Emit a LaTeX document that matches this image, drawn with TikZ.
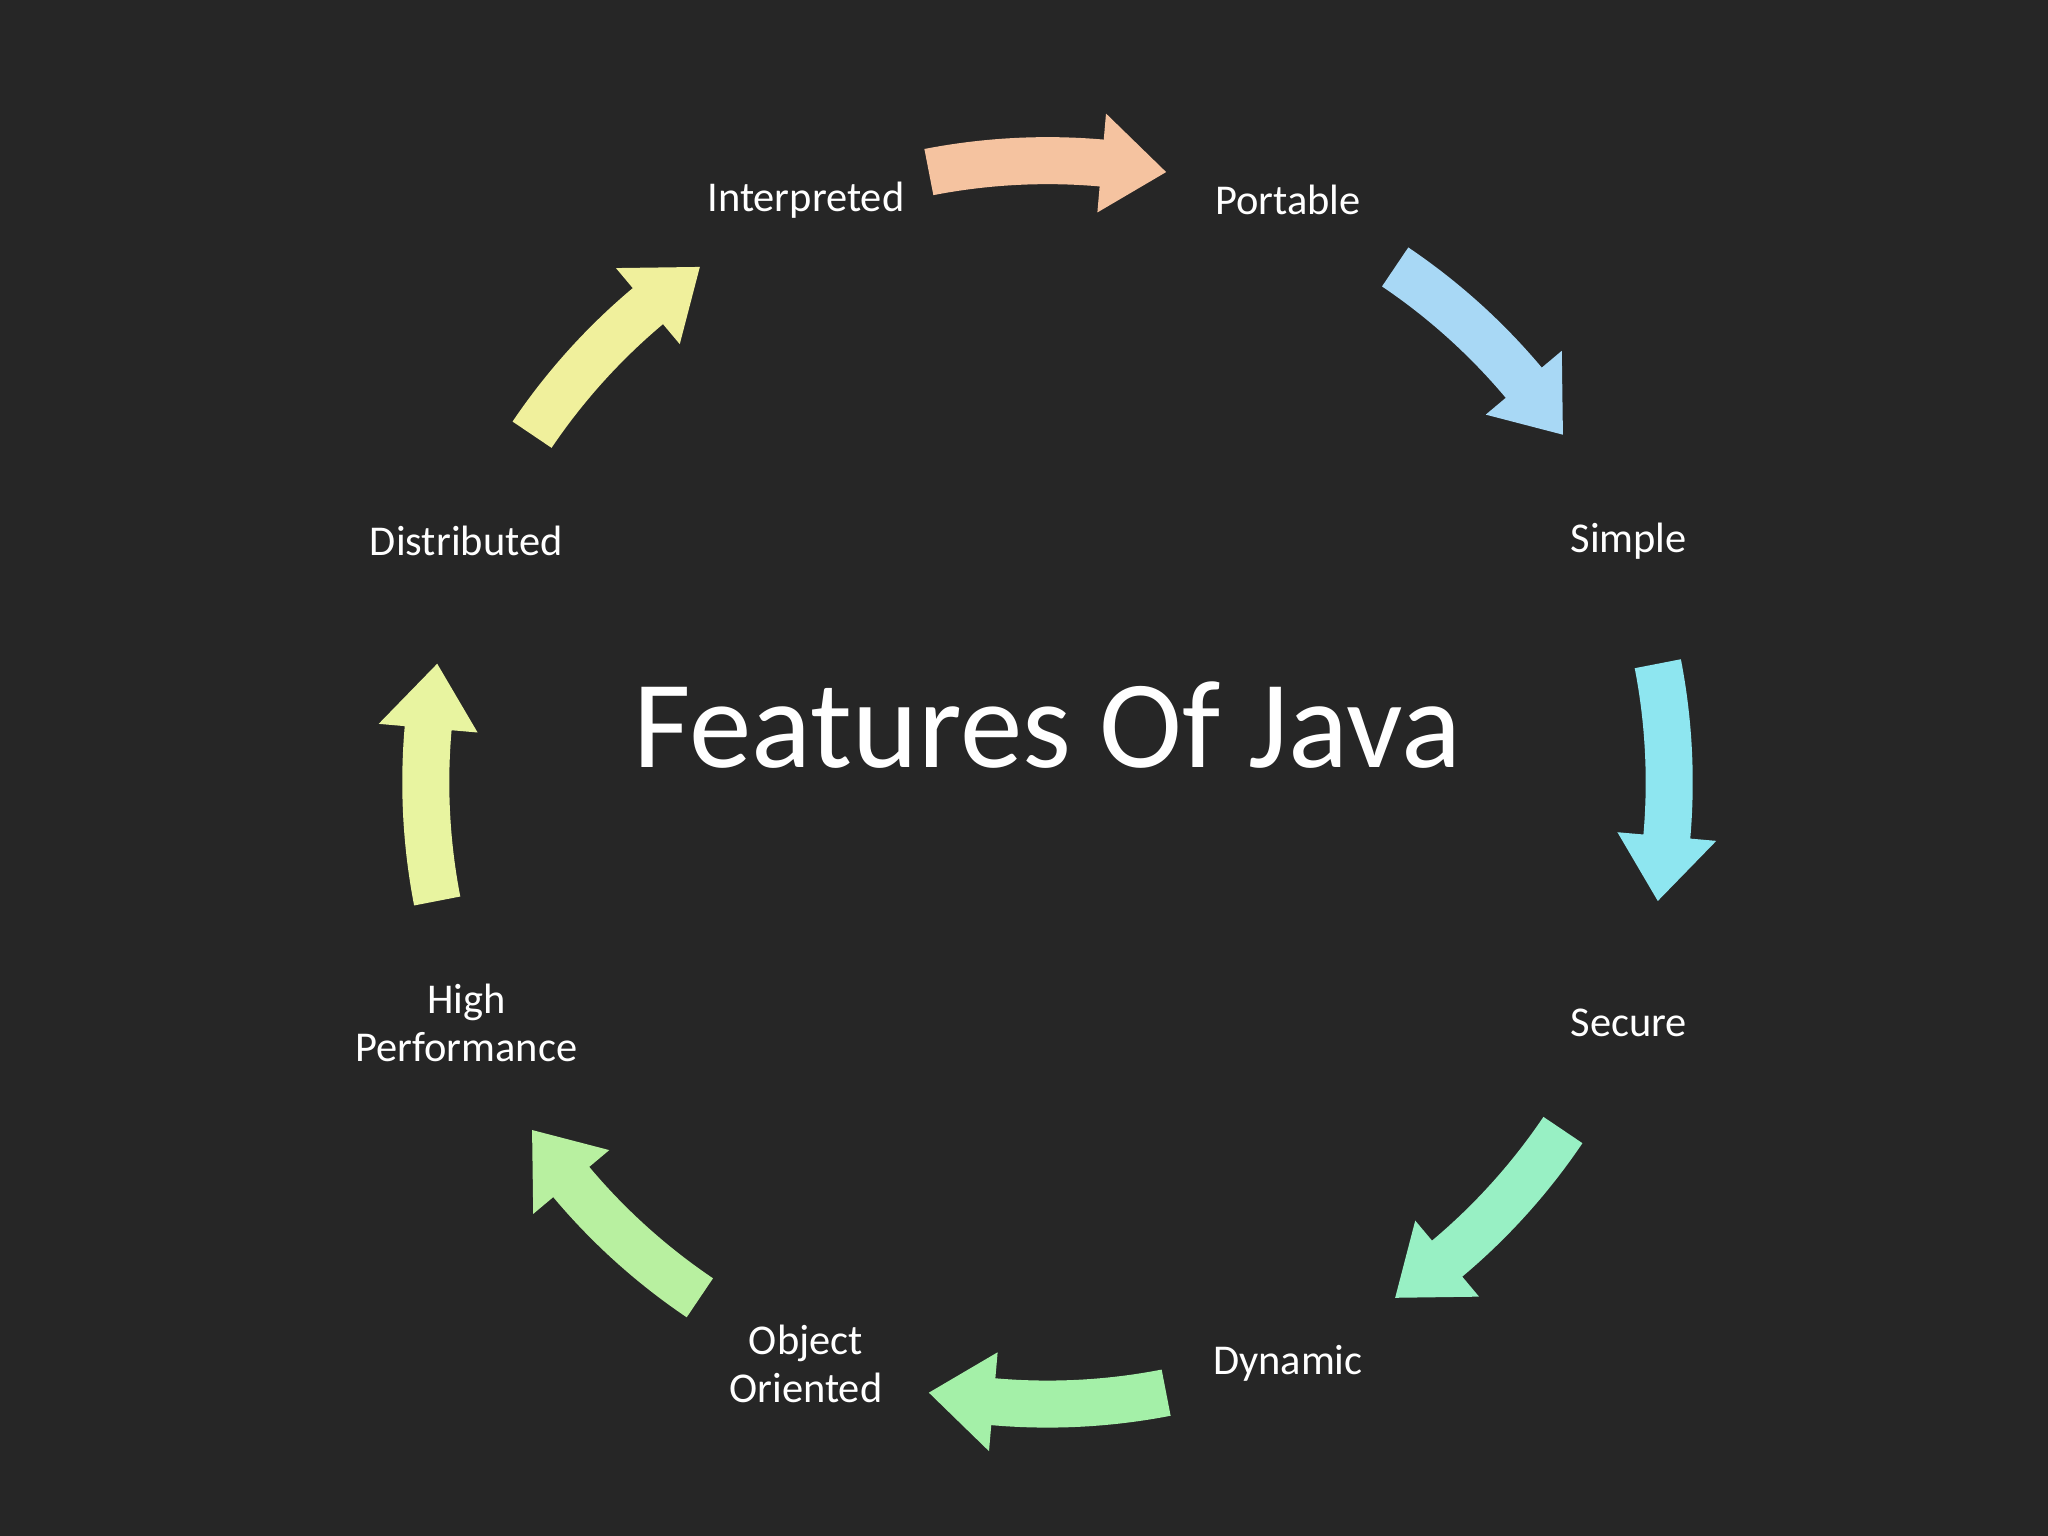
\documentclass[tikz,border=0pt]{standalone}
\usepackage{fontspec}
\setmainfont{Carlito}
\begin{document}
\begin{tikzpicture}[x=0.02cm,y=0.02cm,
 lbl/.style={text=white,font=\fontsize{18.5}{21}\selectfont,align=center},
 ttl/.style={text=white,font=\fontsize{54.5}{60}\selectfont}]
\fill[black!85] (-802,-577) rectangle (766,599);
\useasboundingbox (-802,-577) rectangle (766,599);
\def\r{476}
\newcommand{\carrow}[2]{%
 \pgfmathsetmacro{\aa}{#1+11}\pgfmathsetmacro{\ab}{#1-5}\pgfmathsetmacro{\ac}{#1-11}%
 \fill[#2] (\aa:\r+18) arc[start angle=\aa,end angle=\ab,radius=\r+18] -- (\ab:\r+38) -- (\ac:\r) -- (\ab:\r-38) -- (\ab:\r-18) arc[start angle=\ab,end angle=\aa,radius=\r-18] -- cycle;}
\definecolor{c1}{HTML}{F5C3A0}\definecolor{c2}{HTML}{A8D8F5}
\definecolor{c3}{HTML}{8EE6F0}\definecolor{c4}{HTML}{98F0C4}
\definecolor{c5}{HTML}{A4F0A8}\definecolor{c6}{HTML}{B8F0A0}
\definecolor{c7}{HTML}{E8F4A0}\definecolor{c8}{HTML}{F0F09C}
\carrow{90}{c1}\carrow{45}{c2}\carrow{0}{c3}\carrow{-45}{c4}
\carrow{-90}{c5}\carrow{-135}{c6}\carrow{-180}{c7}\carrow{-225}{c8}
\node[lbl] (int) at (-185,446) {Interpreted};
\node[lbl] (por) at (184,446) {Portable};
\node[lbl] (sim) at (445,185) {Simple};
\node[lbl] (sec) at (445,-184) {Secure};
\node[lbl] (dyn) at (184,-445) {Dynamic};
\node[lbl] (obj) at (-185,-445) {Object\\Oriented};
\node[lbl] (hig) at (-445,-184) {High\\Performance};
\node[lbl] (dis) at (-445,185) {Distributed};
\node[ttl] (title) at (0,44) {Features Of Java};
\end{tikzpicture}
\end{document}
